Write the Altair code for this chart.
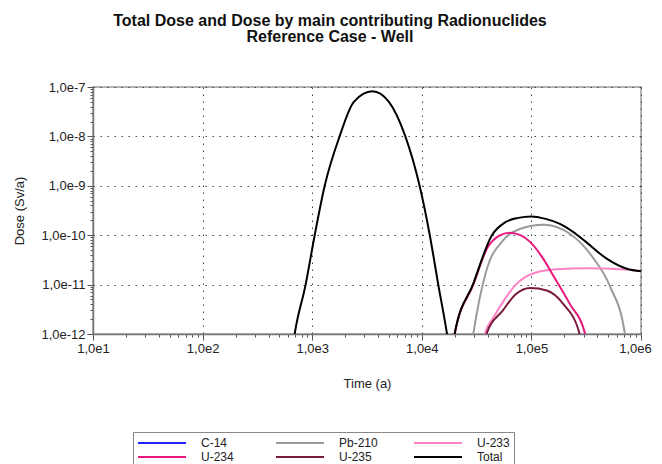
import altair as alt
import pandas as pd

series_order = ["C-14", "Pb-210", "U-233", "U-234", "U-235", "Total"]
series_colors = ["#2222ff", "#9a9a9a", "#ff82c6", "#e8177c", "#7a1a3c", "#000000"]
series_widths = [2, 2, 2, 2, 2, 4]

# Time (a) and dose (Sv/a)
c14_t = [1.0e4, 1.0e5, 1.0e6]
c14_d = [1.0e-14, 1.0e-14, 1.0e-14]

pb210_t = [2.818e4, 2.951e4, 3.890e4, 5.495e4, 7.943e4, 1.288e5, 2.239e5, 3.631e5, 5.248e5, 7.079e5, 7.413e5]
pb210_d = [5e-13, 1e-12, 1.95e-11, 7.76e-11, 1.35e-10, 1.62e-10, 1.07e-10, 3.55e-11, 8.91e-12, 1.10e-12, 5e-13]

u233_t = [3.631e4, 3.758e4, 4.467e4, 5.623e4, 7.079e4, 8.913e4, 1.122e5, 1.698e5, 3.236e5, 6.457e5, 1.0e6]
u233_d = [5e-13, 1e-12, 2.09e-12, 4.79e-12, 9.55e-12, 1.45e-11, 1.78e-11, 2.04e-11, 2.14e-11, 2.04e-11, 1.91e-11]

u234_t = [1.905e4, 1.995e4, 2.951e4, 3.981e4, 5.012e4, 6.310e4, 7.943e4, 9.772e4, 1.259e5, 1.585e5, 2.239e5, 3.090e5, 3.311e5]
u234_d = [5e-13, 1e-12, 1.0e-11, 5.62e-11, 9.55e-11, 1.12e-10, 1.0e-10, 7.24e-11, 3.55e-11, 1.51e-11, 4.07e-12, 1e-12, 5e-13]

u235_t = [3.715e4, 3.890e4, 5.495e4, 7.244e4, 9.772e4, 1.380e5, 1.950e5, 2.754e5, 2.884e5]
u235_d = [5e-13, 1e-12, 3.02e-12, 6.46e-12, 8.51e-12, 7.59e-12, 4.07e-12, 1e-12, 5e-13]

total_t = [661, 692, 871, 1054, 1300, 1778, 2399, 3548, 5012, 7079, 9550, 11830, 14130, 16980, 17780,
           18400, 1.905e4, 1.995e4, 2.951e4, 4.365e4, 5.754e4, 7.586e4, 1.0e5, 1.349e5, 1.820e5,
           2.399e5, 3.162e5, 4.898e5, 7.413e5, 1.0e6]
total_d = [5e-13, 1e-12, 1e-11, 1e-10, 1e-9, 1e-8, 5.01e-8, 8.2e-8, 5.01e-8, 1e-8, 1e-9,
           1e-10, 1e-11, 1e-12, 5e-13,
           2e-13, 5e-13, 1e-12, 1.05e-11, 1.0e-10, 1.82e-10, 2.24e-10, 2.40e-10, 2.14e-10, 1.70e-10,
           1.17e-10, 7.24e-11, 3.31e-11, 2.09e-11, 1.86e-11]

x_major = [1e1, 1e2, 1e3, 1e4, 1e5, 1e6]
y_major = [1e-12, 1e-11, 1e-10, 1e-9, 1e-8, 1e-7]
x_ticks = [m * k for m in x_major[:-1] for k in range(1, 10)] + [x_major[-1]]
y_ticks = [m * k for m in y_major[:-1] for k in range(1, 10)] + [y_major[-1]]


def frame(name, t, d):
    return pd.DataFrame({"series": name, "time": t, "dose": d})


others = pd.concat([
    frame("C-14", c14_t, c14_d),
    frame("Pb-210", pb210_t, pb210_d),
    frame("U-233", u233_t, u233_d),
    frame("U-235", u235_t, u235_d),
    frame("U-234", u234_t, u234_d),
])
total = frame("Total", total_t, total_d)

major = "abs(log(datum.value)/LN10 - round(log(datum.value)/LN10)) < 0.01"
label_expr = f"({major}) ? '1,0e' + round(log(datum.value)/LN10) : ''"

font = "Liberation Sans"

x_enc = alt.X("time:Q",
              scale=alt.Scale(type="log", domain=[1e1, 1e6], nice=False),
              axis=alt.Axis(values=x_ticks, labelExpr=label_expr, title="Time (a)",
                            labelOverlap=False, labelFlush=False,
                            labelOffset={"condition": {"test": "datum.value > 5e5", "value": -6}, "value": 0},
                            gridOpacity={"condition": {"test": major, "value": 1}, "value": 0},
                            tickSize={"condition": {"test": major, "value": 6}, "value": 3},
                            titlePadding=22))
y_enc = alt.Y("dose:Q",
              scale=alt.Scale(type="log", domain=[1e-12, 1e-7], nice=False),
              axis=alt.Axis(values=y_ticks, labelExpr=label_expr, title="Dose (Sv/a)",
                            labelOverlap=False, labelFlush=False,
                            gridOpacity={"condition": {"test": major, "value": 1}, "value": 0},
                            tickSize={"condition": {"test": major, "value": 6}, "value": 3},
                            titlePadding=14))
color_enc = alt.Color("series:N",
                      scale=alt.Scale(domain=series_order, range=series_colors),
                      legend=alt.Legend(title=None, orient="none", legendX=40, legendY=345,
                                        direction="horizontal", columns=3,
                                        symbolType="M-4,0H4", symbolSize=144, symbolOffset=18,
                                        symbolStrokeWidth=3, labelOffset=32, columnPadding=32,
                                        rowPadding=1, gridAlign="all", padding=4,
                                        strokeColor="#888888", labelFontSize=12, labelFont=font,
                                        labelColor="#222222", fillColor="white"))
sw_enc = alt.StrokeWidth("series:N",
                         scale=alt.Scale(domain=series_order, range=series_widths), legend=None)

base_lines = alt.Chart(others).mark_line(clip=True, interpolate="monotone").encode(
    x=x_enc, y=y_enc, color=color_enc, strokeWidth=sw_enc, detail="series:N")
total_line = alt.Chart(total).mark_line(clip=True, interpolate="monotone").encode(
    x=x_enc, y=y_enc, color=color_enc, strokeWidth=sw_enc)

chart = alt.layer(base_lines, total_line).properties(
    width=548, height=247,
    title=alt.TitleParams(
        text=["Total Dose and Dose by main contributing Radionuclides", "Reference Case - Well"],
        font=font, fontSize=16, fontWeight="bold", color="#111111", anchor="middle",
        dx=-37, offset=36, lineHeight=16),
    autosize=alt.AutoSizeParams(type="none"),
    padding={"left": 85, "top": 79, "right": 12, "bottom": 140},
).configure_view(stroke="#9a9a9a", strokeWidth=1.5).configure_axis(
    labelFont=font, labelFontSize=13, labelColor="#222222",
    titleFont=font, titleFontSize=13, titleColor="#222222", titleFontWeight="normal",
    domainColor="#777777", domainWidth=1.5, tickColor="#555555",
    gridColor="#444444", gridDash=[1.5, 5.5], gridWidth=1, labelPadding=2,
)

chart.save("out.html", embed_options={"renderer": "svg", "actions": False})
